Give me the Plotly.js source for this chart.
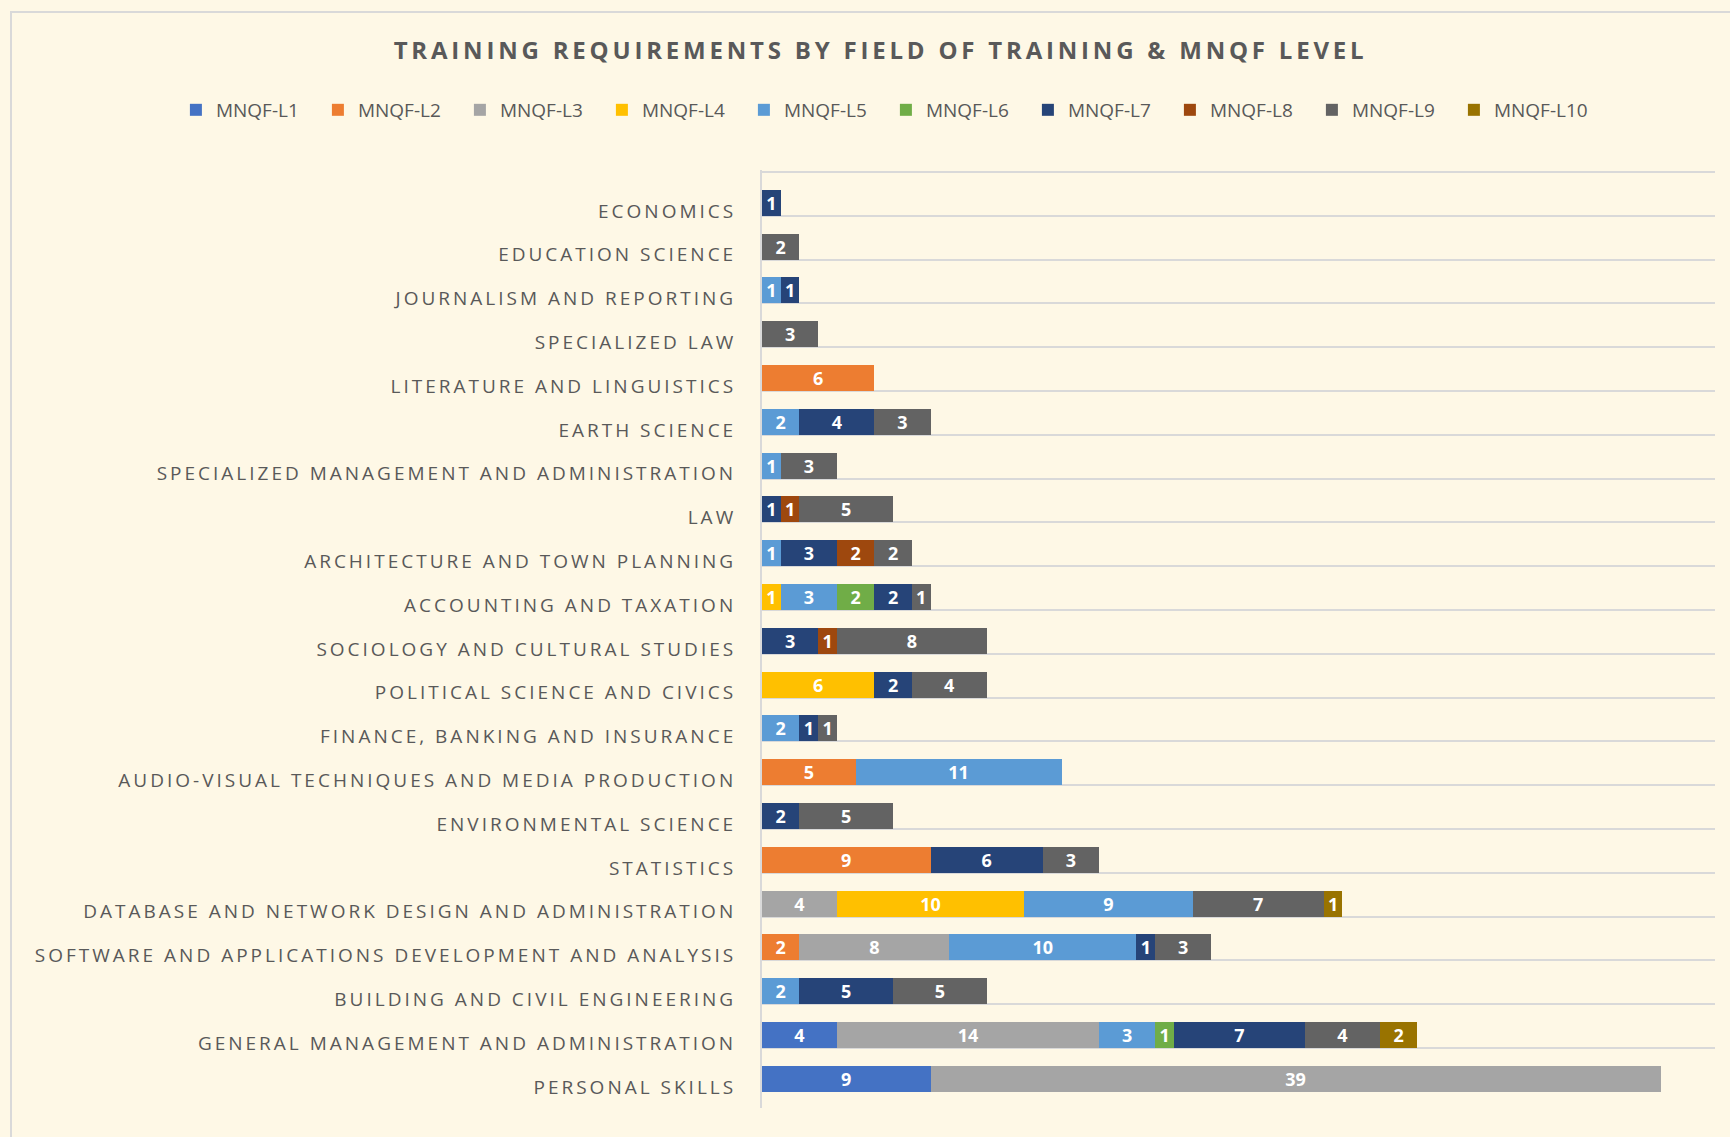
<!DOCTYPE html>
<html>
<head>
<meta charset="utf-8">
<script src="https://cdn.plot.ly/plotly-3.0.1.min.js"></script>
<style>
  html, body { margin: 0; padding: 0; background: #FEF8E6; }
  #chart { width: 1730px; height: 1137px; position: relative; }
  #frame { position: absolute; left: 10px; top: 11px; width: 1730px; height: 1137px;
           border-left: 2px solid #D9D9D9; border-top: 2px solid #D9D9D9; pointer-events: none; }
  .ytick text { letter-spacing: 3px; }
  .gtitle { letter-spacing: 3.8px; }
</style>
</head>
<body>
<div id="chart"></div>
<div id="frame"></div>
<script>
// Categories listed top-to-bottom as they appear in the chart
const categories = [
  "ECONOMICS",
  "EDUCATION SCIENCE",
  "JOURNALISM AND REPORTING",
  "SPECIALIZED LAW",
  "LITERATURE AND LINGUISTICS",
  "EARTH SCIENCE",
  "SPECIALIZED MANAGEMENT AND ADMINISTRATION",
  "LAW",
  "ARCHITECTURE AND TOWN PLANNING",
  "ACCOUNTING AND TAXATION",
  "SOCIOLOGY AND CULTURAL STUDIES",
  "POLITICAL SCIENCE AND CIVICS",
  "FINANCE, BANKING AND INSURANCE",
  "AUDIO-VISUAL TECHNIQUES AND MEDIA PRODUCTION",
  "ENVIRONMENTAL SCIENCE",
  "STATISTICS",
  "DATABASE AND NETWORK DESIGN AND ADMINISTRATION",
  "SOFTWARE AND APPLICATIONS DEVELOPMENT AND ANALYSIS",
  "BUILDING AND CIVIL ENGINEERING",
  "GENERAL MANAGEMENT AND ADMINISTRATION",
  "PERSONAL SKILLS"
];

const seriesNames = ["MNQF-L1","MNQF-L2","MNQF-L3","MNQF-L4","MNQF-L5","MNQF-L6","MNQF-L7","MNQF-L8","MNQF-L9","MNQF-L10"];

const L1  = [null,null,null,null,null,null,null,null,null,null,null,null,null,null,null,null,null,null,null,4,9];
const L2  = [null,null,null,null,6,null,null,null,null,null,null,null,null,5,null,9,null,2,null,null,null];
const L3  = [null,null,null,null,null,null,null,null,null,null,null,null,null,null,null,null,4,8,null,14,39];
const L4  = [null,null,null,null,null,null,null,null,null,1,null,6,null,null,null,null,10,null,null,null,null];
const L5  = [null,null,1,null,null,2,1,null,1,3,null,null,2,11,null,null,9,10,2,3,null];
const L6  = [null,null,null,null,null,null,null,null,null,2,null,null,null,null,null,null,null,null,null,1,null];
const L7  = [1,null,1,null,null,4,null,1,3,2,3,2,1,null,2,6,null,1,5,7,null];
const L8  = [null,null,null,null,null,null,null,1,2,null,1,null,null,null,null,null,null,null,null,null,null];
const L9  = [null,2,null,3,null,3,3,5,2,1,8,4,1,null,5,3,7,3,5,4,null];
const L10 = [null,null,null,null,null,null,null,null,null,null,null,null,null,null,null,null,1,null,null,2,null];

const seriesValues = [L1,L2,L3,L4,L5,L6,L7,L8,L9,L10];
const colors = ["#4472C4","#ED7D31","#A5A5A5","#FFC000","#5B9BD5","#70AD47","#264478","#9E480E","#636363","#997300"];

const FONT = "'Open Sans', 'Liberation Sans', sans-serif";

const traces = seriesValues.map((vals, k) => ({
  type: "bar",
  orientation: "h",
  name: seriesNames[k],
  y: categories,
  x: vals,
  marker: { color: colors[k], line: { width: 0 } },
  offset: -0.094,
  width: 0.594,
  text: vals.map(v => v == null ? "" : String(v)),
  texttemplate: "%{text}",
  textposition: "inside",
  insidetextanchor: "middle",
  textangle: 0,
  constraintext: "none",
  textfont: { family: FONT, size: 18, color: "#FFFFFF", weight: 700 },
  hoverinfo: "name+x"
}));

const layout = {
  width: 1730,
  height: 1137,
  paper_bgcolor: "#FEF8E6",
  plot_bgcolor: "rgba(0,0,0,0)",
  font: { family: FONT, color: "#595959" },
  barmode: "stack",
  margin: { l: 762, r: 15, t: 170, b: 29 },
  title: {
    text: "TRAINING REQUIREMENTS BY FIELD OF TRAINING &amp; MNQF LEVEL",
    font: { family: FONT, size: 24, color: "#595959", weight: 700 },
    x: 0.509, xanchor: "center", xref: "container",
    y: 1 - 51/1137, yanchor: "middle", yref: "container"
  },
  legend: {
    orientation: "h",
    traceorder: "normal",
    xref: "paper", yref: "paper",
    x: -0.615, xanchor: "left",
    y: 1.064, yanchor: "middle",
    font: { family: FONT, size: 19, color: "#595959" },
    entrywidth: 97,
    entrywidthmode: "pixels",
    itemwidth: 30,
    bgcolor: "rgba(0,0,0,0)"
  },
  xaxis: {
    range: [0, 50.9],
    visible: false,
    showgrid: false,
    zeroline: false,
    fixedrange: true
  },
  yaxis: {
    type: "category",
    categoryorder: "array",
    categoryarray: categories,
    range: [20.868, -0.546],
    tickson: "boundaries",
    showgrid: true,
    gridcolor: "#D9D9D9",
    gridwidth: 2,
    showline: true,
    linecolor: "#D9D9D9",
    linewidth: 2,
    ticks: "",
    ticklabelstandoff: 20,
    ticklabelshift: -17,
    tickfont: { family: FONT, size: 19, color: "#595959" },
    fixedrange: true
  },
  bargap: 0.4
};

Plotly.newPlot("chart", traces, layout, { displayModeBar: false, staticPlot: true });
</script>
</body>
</html>
